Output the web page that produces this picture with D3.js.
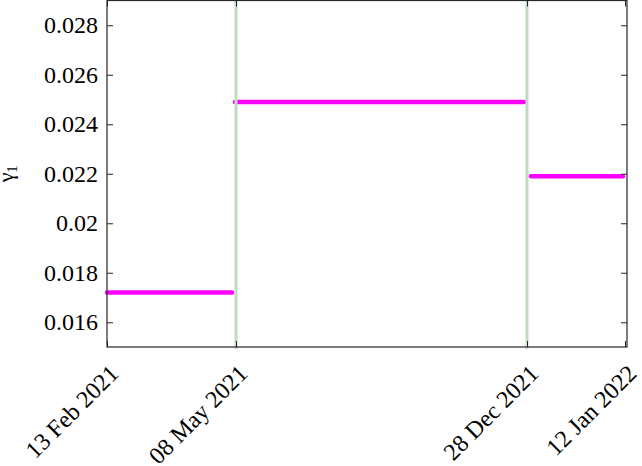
<!DOCTYPE html>
<html>
<head>
<meta charset="utf-8">
<script src="https://cdn.jsdelivr.net/npm/d3@7"></script>
<style>
  html, body { margin: 0; padding: 0; background: #fff; }
  svg { display: block; }
  text { font-family: "Liberation Serif", "Times New Roman", serif; fill: #000; }
</style>
</head>
<body>
<script>
// ---- data (x in sample-index units) ----
const tickIndex = [0, 129, 420, 518];
const tickLabels = ["13 Feb 2021", "08 May 2021", "28 Dec 2021", "12 Jan 2022"];
const breakIndex = [129, 420];
const segStart = [0, 128, 424];
const segEnd = [125, 417, 516];
const segValue = [0.0172, 0.0249, 0.0219];
const yTicks = [0.016, 0.018, 0.02, 0.022, 0.024, 0.026, 0.028];
const yTickLabels = ["0.016", "0.018", "0.02", "0.022", "0.024", "0.026", "0.028"];
const xDomain = [0, 520];
const yDomain = [0.015, 0.029];

const W = 642, H = 466;
const L = 107, R = 627, T = 0.5, B = 347;

const svg = d3.select("body").append("svg").attr("width", W).attr("height", H);

const x = d3.scaleLinear().domain(xDomain).range([L, R]);
const y = d3.scaleLinear().domain(yDomain).range([B, T]);

// segments
svg.append("g").selectAll("line").data(segValue).join("line")
  .attr("x1", (d, i) => x(segStart[i]))
  .attr("x2", (d, i) => x(segEnd[i]))
  .attr("y1", d => y(d)).attr("y2", d => y(d))
  .attr("stroke", "#ff00ff").attr("stroke-width", 4.5)
  .attr("stroke-linecap", "round");

// break lines
svg.append("g").selectAll("line").data(breakIndex).join("line")
  .attr("x1", d => x(d)).attr("x2", d => x(d))
  .attr("y1", T).attr("y2", B + 2)
  .attr("stroke", "#bfdcc3").attr("stroke-width", 3);

// axes (inward ticks, mirrored)
const axStroke = "#262626";
const yLeft = svg.append("g").attr("transform", `translate(${L},0)`)
  .call(d3.axisRight(y).tickValues(yTicks).tickSize(6).tickFormat(""));
const yRight = svg.append("g").attr("transform", `translate(${R},0)`)
  .call(d3.axisLeft(y).tickValues(yTicks).tickSize(6).tickFormat(""));
const xBottom = svg.append("g").attr("transform", `translate(0,${B})`)
  .call(d3.axisTop(x).tickValues(tickIndex).tickSize(6).tickFormat(""));
const xTop = svg.append("g").attr("transform", `translate(0,${T})`)
  .call(d3.axisBottom(x).tickValues(tickIndex).tickSize(6).tickFormat(""));
[yLeft, yRight, xBottom, xTop].forEach(g => {
  g.select(".domain").remove();
  g.selectAll("line").attr("stroke", axStroke).attr("stroke-width", 1);
});

// frame
svg.append("rect").attr("x", L).attr("y", T).attr("width", R - L).attr("height", B - T)
  .attr("fill", "none").attr("stroke", axStroke).attr("stroke-width", 1.2);

// y tick labels
svg.append("g").selectAll("text").data(yTicks).join("text")
  .attr("x", L - 9).attr("y", d => y(d))
  .attr("dy", "0.34em")
  .attr("text-anchor", "end")
  .attr("font-size", 24)
  .text((d, i) => yTickLabels[i]);

// x tick labels, rotated
svg.append("g").selectAll("text").data(tickIndex).join("text")
  .attr("transform", d => `translate(${x(d) + 13},${B + 28}) rotate(-45)`)
  .attr("text-anchor", "end")
  .attr("font-size", 24)
  .text((d, i) => tickLabels[i]);

// y axis label
const yl = svg.append("text")
  .attr("transform", `translate(13,${(T + B) / 2}) rotate(-90)`)
  .attr("text-anchor", "middle")
  .attr("font-size", 22);
yl.append("tspan").text("γ");
yl.append("tspan").attr("font-size", 15).attr("dy", 4).text("1");
</script>
</body>
</html>
